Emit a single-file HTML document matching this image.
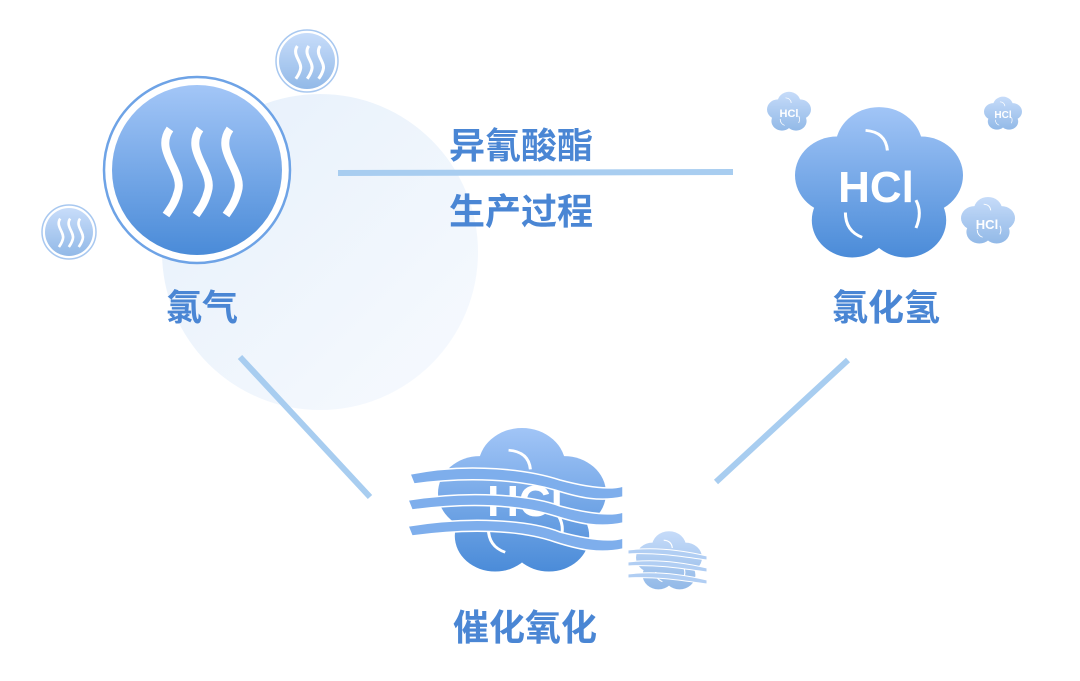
<!DOCTYPE html>
<html><head><meta charset="utf-8"><style>
html,body{margin:0;padding:0;background:#fff;}
svg{display:block;}
text{font-family:"Liberation Sans","Noto Sans CJK SC",sans-serif;font-weight:bold;fill:#4a86d4;}
</style></head><body>
<svg width="1080" height="681" viewBox="0 0 1080 681" xmlns="http://www.w3.org/2000/svg">
<defs>
<linearGradient id="bg" x1="0" y1="0" x2="1" y2="1"><stop offset="0" stop-color="#e6f0fb"/><stop offset="1" stop-color="#f7fafe"/></linearGradient>
<linearGradient id="blue" x1="0" y1="0" x2="0" y2="1"><stop offset="0" stop-color="#a3c6f7"/><stop offset="1" stop-color="#4a8bd8"/></linearGradient>
<linearGradient id="cg" gradientUnits="userSpaceOnUse" x1="0" y1="0" x2="0" y2="100"><stop offset="0" stop-color="#a3c6f7"/><stop offset="1" stop-color="#4a8bd8"/></linearGradient>
<symbol id="cloud" viewBox="0 0 100 100" preserveAspectRatio="none">
<g fill="url(#cg)">
<circle cx="50" cy="28" r="26"/><circle cx="25" cy="46" r="25"/><circle cx="75" cy="46" r="25"/>
<circle cx="34" cy="75" r="24"/><circle cx="66" cy="75" r="24"/><circle cx="50" cy="53" r="38"/>
</g>
<path d="M42 17 Q54 18 55 30" stroke="#fff" stroke-width="1.8" fill="none"/>
<path d="M72 62 Q76 70 72 80" stroke="#fff" stroke-width="1.8" fill="none"/>
<path d="M30 70 Q30 82 40 86" stroke="#fff" stroke-width="1.8" fill="none"/>
</symbol>
<symbol id="steam" viewBox="0 0 100 100">
<g stroke="#fff" stroke-width="8" fill="none">
<path d="M22 8 C6 30 36 50 30 70 C27 82 22 88 18 94"/>
<path d="M52 8 C36 30 66 50 60 70 C57 82 52 88 48 94"/>
<path d="M82 8 C66 30 96 50 90 70 C87 82 82 88 78 94"/>
</g>
</symbol>
</defs>
<circle cx="320" cy="252" r="158" fill="url(#bg)"/>
<line x1="338" y1="173" x2="733" y2="172" stroke="#a8cdf0" stroke-width="6"/>
<line x1="240" y1="357" x2="370" y2="497" stroke="#a8cdf0" stroke-width="6"/>
<line x1="848" y1="360" x2="716" y2="482" stroke="#a8cdf0" stroke-width="6"/>

<circle cx="197" cy="170" r="93" fill="#fff" stroke="#6ea3e6" stroke-width="2.5"/>
<circle cx="197" cy="170" r="85" fill="url(#blue)"/>
<use href="#steam" x="148" y="110" width="100" height="122"/>
<g opacity="0.6">
<circle cx="307" cy="61" r="31" fill="#fff" stroke="#6ea3e6" stroke-width="1.5"/>
<circle cx="307" cy="61" r="28" fill="url(#blue)"/>
<use href="#steam" x="289" y="42" width="38" height="40"/>
<circle cx="69" cy="232" r="27" fill="#fff" stroke="#6ea3e6" stroke-width="1.5"/>
<circle cx="69" cy="232" r="24" fill="url(#blue)"/>
<use href="#steam" x="53" y="215" width="33" height="35"/>
</g>

<use href="#cloud" x="795" y="104" width="168" height="155"/>
<text x="876" y="202" font-size="44" text-anchor="middle" style="fill:#fff">HCl</text>
<g opacity="0.6">
<use href="#cloud" x="767" y="91" width="44" height="40"/>
<text x="789" y="117" font-size="11" text-anchor="middle" style="fill:#fff">HCl</text>
<use href="#cloud" x="984" y="96" width="38" height="34"/>
<text x="1003" y="118" font-size="10" text-anchor="middle" style="fill:#fff">HCl</text>
<use href="#cloud" x="961" y="196" width="54" height="48"/>
<text x="987" y="229" font-size="13" text-anchor="middle" style="fill:#fff">HCl</text>
</g>

<use href="#cloud" x="438" y="425" width="168" height="148"/>
<text x="525" y="516" font-size="44" text-anchor="middle" style="fill:#fff">HCl</text>
<g fill="#7eaeec" stroke="#fff" stroke-width="1.5">
<path d="M410 474 C470 462 530 470 560 480 C590 488 610 490 623 486 L623 497 C600 502 580 498 555 490 C520 480 470 476 414 484 Z"/>
<path d="M408 500 C470 490 530 495 560 506 C590 514 610 516 623 512 L623 523 C600 528 580 524 555 516 C520 505 470 502 412 510 Z"/>
<path d="M408 526 C470 516 530 520 560 532 C590 540 610 542 623 538 L623 549 C600 554 580 550 555 542 C520 530 470 528 412 536 Z"/>
</g>
<g opacity="0.6">
<use href="#cloud" x="636" y="530" width="66" height="60"/>
<g fill="#7eaeec" stroke="#fff" stroke-width="1">
<path d="M628 550 C660 546 690 552 707 556 L707 560 C690 558 660 552 628 554 Z"/>
<path d="M628 562 C660 558 690 564 707 568 L707 572 C690 570 660 564 628 566 Z"/>
<path d="M628 574 C660 570 690 576 707 580 L707 584 C690 582 660 576 628 578 Z"/>
</g>
</g>

<text x="521" y="158" font-size="36" text-anchor="middle">异氰酸酯</text>
<text x="521" y="224" font-size="36" text-anchor="middle">生产过程</text>
<text x="202" y="320" font-size="36" text-anchor="middle">氯气</text>
<text x="886" y="320" font-size="36" text-anchor="middle">氯化氢</text>
<text x="525" y="640" font-size="36" text-anchor="middle">催化氧化</text>
</svg>
</body></html>
